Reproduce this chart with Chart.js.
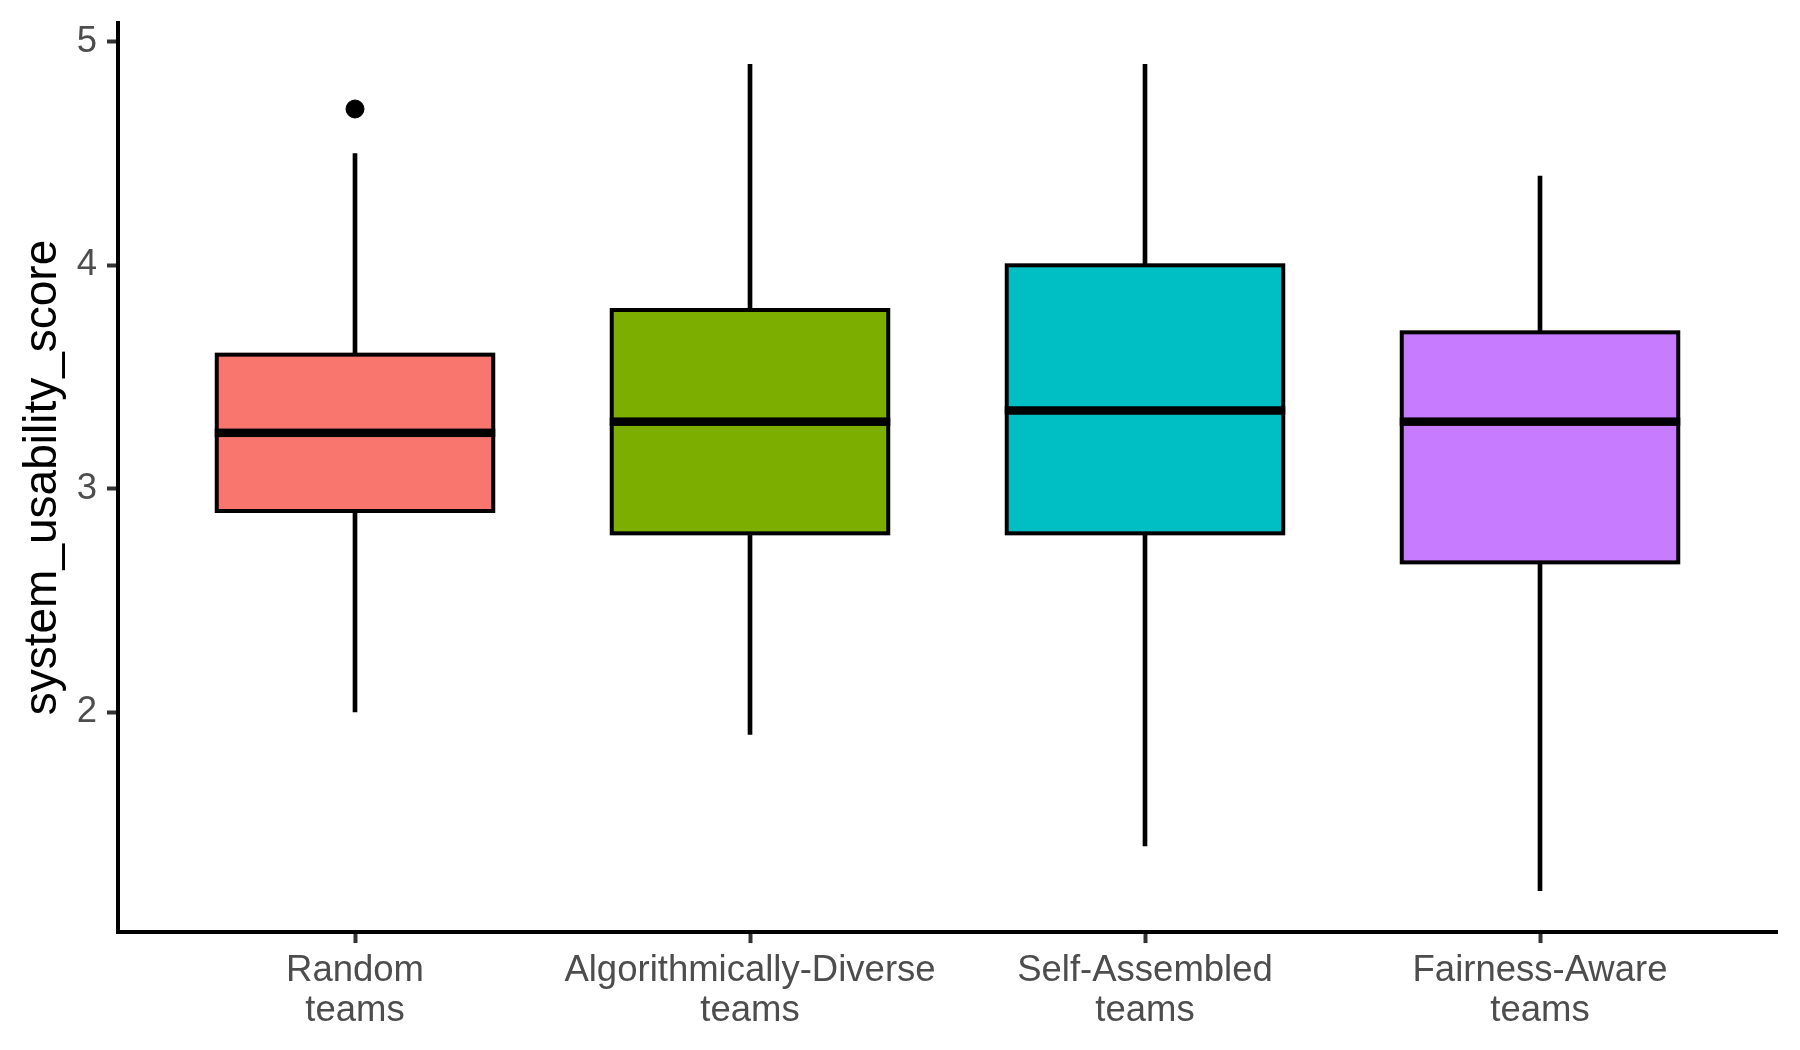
<!DOCTYPE html>
<html>
<head>
<meta charset="utf-8">
<script src="https://cdn.jsdelivr.net/npm/chart.js@4.4.1/dist/chart.umd.min.js"></script>
<style>
  html, body { margin: 0; padding: 0; background: #ffffff; }
  #wrap { width: 1800px; height: 1050px; }
</style>
</head>
<body>
<div id="wrap"><canvas id="c" width="1800" height="1050"></canvas></div>
<script>
// ---- Data ----
const categories = [["Random", "teams"], ["Algorithmically-Diverse", "teams"], ["Self-Assembled", "teams"], ["Fairness-Aware", "teams"]];
const whiskerLow  = [2.0, 1.9, 1.4, 1.2];
const q1          = [2.9, 2.8, 2.8, 2.67];
const median      = [3.25, 3.3, 3.35, 3.3];
const q3          = [3.6, 3.8, 4.0, 3.7];
const whiskerHigh = [4.5, 4.9, 4.9, 4.4];
const outlierGroup = [1];      // 1-based category index
const outlierValue = [4.7];
const yTicks = [2, 3, 4, 5];
const fillColors = ["#F8766D", "#7CAE00", "#00BFC4", "#C77CFF"];
const yTitle = "system_usability_score";

const FONT = "'Liberation Sans', Arial, Helvetica, sans-serif";

const xPos = categories.map((_, i) => i + 1);

// Box outlines (centred on the box edges, as in ggplot) and median lines
const boxOutlinePlugin = {
  id: 'boxOutline',
  afterDatasetsDraw(chart) {
    const meta = chart.getDatasetMeta(1);
    const yScale = chart.scales.y;
    const ctx = chart.ctx;
    ctx.save();
    ctx.strokeStyle = '#000000';
    ctx.fillStyle = '#000000';
    ctx.lineWidth = 4;
    ctx.lineJoin = 'miter';
    meta.data.forEach((bar, i) => {
      const w = bar.width;
      const left = bar.x - w / 2;
      const top = yScale.getPixelForValue(q3[i]);
      const bottom = yScale.getPixelForValue(q1[i]);
      ctx.strokeRect(left, top, w, bottom - top);
      const ym = yScale.getPixelForValue(median[i]);
      ctx.fillRect(left - 2, ym - 4.25, w + 4, 8.5);
    });
    ctx.restore();
  }
};

new Chart(document.getElementById('c'), {
  type: 'bar',
  data: {
    datasets: [
      {
        label: 'whiskers',
        data: xPos.map((x, i) => ({ x: x, y: [whiskerLow[i], whiskerHigh[i]] })),
        backgroundColor: '#000000',
        barThickness: 4,
        grouped: false,
        order: 3
      },
      {
        label: 'boxes',
        data: xPos.map((x, i) => ({ x: x, y: [q1[i], q3[i]] })),
        backgroundColor: fillColors,
        borderWidth: 0,
        categoryPercentage: 1,
        barPercentage: 0.7,
        grouped: false,
        order: 2
      },
      {
        type: 'scatter',
        label: 'outliers',
        data: outlierGroup.map((g, i) => ({ x: g, y: outlierValue[i] })),
        backgroundColor: '#000000',
        borderColor: '#000000',
        pointRadius: 9,
        order: 1
      }
    ]
  },
  options: {
    responsive: false,
    animation: false,
    devicePixelRatio: 1,
    layout: { padding: { top: 23, right: 23, left: 0, bottom: 0 } },
    plugins: {
      legend: { display: false },
      tooltip: { enabled: false }
    },
    scales: {
      x: {
        type: 'linear',
        min: 0.4,
        max: 4.6,
        offset: false,
        afterBuildTicks: (s) => { s.ticks = xPos.map(v => ({ value: v })); },
        afterFit: (s) => { s.height = 118; s.paddingLeft = 0; s.paddingRight = 0; },
        grid: { display: true, offset: false, drawOnChartArea: false, drawTicks: true, tickLength: 11, tickWidth: 4, tickColor: '#333333' },
        border: { display: true, color: '#000000', width: 4 },
        ticks: {
          autoSkip: false,
          maxRotation: 0,
          padding: 8,
          color: '#4D4D4D',
          font: { family: FONT, size: 36.5, lineHeight: 1.1 },
          callback: (v) => categories[v - 1] || ''
        }
      },
      y: {
        type: 'linear',
        min: 1.015,
        max: 5.085,
        afterBuildTicks: (s) => { s.ticks = yTicks.map(v => ({ value: v })); },
        afterFit: (s) => { s.width = 118; s.paddingTop = 0; s.paddingBottom = 0; },
        grid: { display: true, drawOnChartArea: false, drawTicks: true, tickLength: 11, tickWidth: 4, tickColor: '#333333' },
        border: { display: true, color: '#000000', width: 4 },
        ticks: {
          padding: 10,
          color: '#4D4D4D',
          font: { family: FONT, size: 36.5 },
          callback: (v) => String(v)
        },
        title: {
          display: true,
          text: yTitle,
          color: '#000000',
          font: { family: FONT, size: 46 },
          padding: { top: 16, bottom: 0 }
        }
      }
    }
  },
  plugins: [boxOutlinePlugin]
});
</script>
</body>
</html>
